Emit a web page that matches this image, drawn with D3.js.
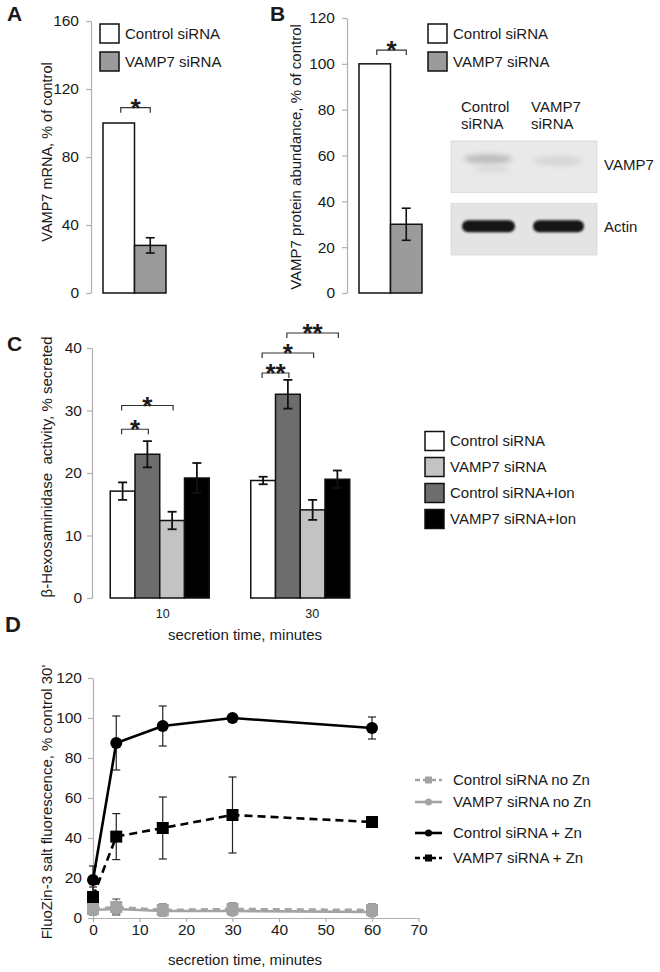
<!DOCTYPE html>
<html><head><meta charset="utf-8">
<script src="https://cdn.jsdelivr.net/npm/d3@7"></script>
<style>
body{margin:0;background:#fff}
svg text{font-family:Arial,"Liberation Sans",sans-serif;fill:#1a1a1a;white-space:pre}
</style>
</head><body>
<svg id="fig" width="660" height="972"></svg>
<script>
// ---------- DATA ----------
const conditionsAB = ["Control siRNA", "VAMP7 siRNA"];
const mrnaValues = [100, 28];
const mrnaErrors = [0, 4.5];
const proteinValues = [100, 30];
const proteinErrors = [0, 7];
const aTicks = [0, 40, 80, 120, 160];
const bTicks = [0, 20, 40, 60, 80, 100, 120];
const sigA = [{a: "Control siRNA", b: "VAMP7 siRNA", y: 109, label: "*"}];
const sigB = [{a: "Control siRNA", b: "VAMP7 siRNA", y: 106, label: "*"}];
const blotLanes = ["Control\nsiRNA", "VAMP7\nsiRNA"];
const blotProteins = ["VAMP7", "Actin"];

const secretionTimes = ["10", "30"];
const hexLegend = ["Control siRNA", "VAMP7 siRNA", "Control siRNA+Ion", "VAMP7 siRNA+Ion"];
const hexBarOrder = ["Control siRNA", "Control siRNA+Ion", "VAMP7 siRNA", "VAMP7 siRNA+Ion"];
const hexControl = [17.1, 18.8];
const hexControlErr = [1.4, 0.6];
const hexControlIon = [23.0, 32.6];
const hexControlIonErr = [2.1, 2.3];
const hexVamp7 = [12.4, 14.1];
const hexVamp7Err = [1.4, 1.6];
const hexVamp7Ion = [19.2, 19.0];
const hexVamp7IonErr = [2.4, 1.4];
const cTicks = [0, 10, 20, 30, 40];
const sigC = [
  {time: "10", a: "Control siRNA", b: "Control siRNA+Ion", y: 27.0, label: "*"},
  {time: "10", a: "Control siRNA", b: "VAMP7 siRNA", y: 30.8, label: "*"},
  {time: "30", a: "Control siRNA", b: "Control siRNA+Ion", y: 36.0, label: "**"},
  {time: "30", a: "Control siRNA", b: "VAMP7 siRNA", y: 39.2, label: "*"},
  {time: "30", a: "Control siRNA+Ion", b: "VAMP7 siRNA+Ion", y: 42.4, label: "**"}
];

const timePoints = [0, 5, 15, 30, 60];
const dSeriesNames = ["Control siRNA no Zn", "VAMP7 siRNA no Zn", "Control siRNA + Zn", "VAMP7 siRNA + Zn"];
const ctrlNoZn = [4.5, 5.5, 4, 4.5, 4];
const ctrlNoZnErr = [3, 4, 3, 3, 3];
const vampNoZn = [4, 4.5, 3.5, 3.5, 3];
const vampNoZnErr = [2, 2.5, 2, 2, 2];
const ctrlZn = [19, 87.5, 96, 100, 95];
const ctrlZnErr = [7, 13.5, 10, 0, 5.5];
const vampZn = [10.5, 40.7, 45, 51.5, 48];
const vampZnErr = [5, 11.5, 15.5, 19, 0];
const dXTicks = [0, 10, 20, 30, 40, 50, 60, 70];
const dYTicks = [0, 20, 40, 60, 80, 100, 120];

// ---------- HELPERS ----------
const svg = d3.select("#fig");
const AXIS = "#b0b0b0";
const FONT = 15;
const TICKFONT = 15.5;

function yAxis(scale, ticks, x, pad) {
  const g = svg.append("g").attr("transform", `translate(${x},0)`)
    .call(d3.axisLeft(scale).tickValues(ticks).tickSize(5).tickSizeOuter(0).tickPadding(pad));
  g.attr("font-family", null).attr("font-size", null);
  g.select(".domain").attr("stroke", AXIS).attr("stroke-width", 1.2);
  g.selectAll(".tick line").attr("stroke", AXIS).attr("stroke-width", 1.2);
  g.selectAll(".tick text").attr("font-size", TICKFONT).attr("fill", "#1a1a1a");
  return g;
}
function yTitle(text, x, y, size) {
  svg.append("text").attr("transform", `translate(${x},${y}) rotate(-90)`)
    .attr("text-anchor", "middle").attr("dy", "0.35em").attr("font-size", size).text(text);
}
function panelLabel(t, x, y, size) {
  svg.append("text").attr("x", x).attr("y", y).attr("font-size", size)
    .attr("font-weight", "bold").attr("fill", "#111").text(t);
}
function errBar(g, cx, yTop, yBot, cap, w, color) {
  g.append("line").attr("x1", cx).attr("x2", cx).attr("y1", yTop).attr("y2", yBot)
    .attr("stroke", color).attr("stroke-width", w);
  [yTop, yBot].forEach(yy => g.append("line").attr("x1", cx - cap / 2).attr("x2", cx + cap / 2)
    .attr("y1", yy).attr("y2", yy).attr("stroke", color).attr("stroke-width", w));
}
function bracket(x1, x2, y, label) {
  svg.append("path").attr("d", `M${x1},${y + 5}V${y}H${x2}V${y + 5}`)
    .attr("fill", "none").attr("stroke", "#333").attr("stroke-width", 1.2);
  svg.append("text").attr("x", (x1 + x2) / 2).attr("y", y + 9).attr("text-anchor", "middle")
    .attr("font-size", 26).attr("font-weight", "bold").attr("fill", "#111").text(label);
}
function boxLegend(items, colors, x, y0, step, size) {
  items.forEach((t, i) => {
    const y = y0 + i * step;
    svg.append("rect").attr("x", x).attr("y", y - size / 2).attr("width", size).attr("height", size)
      .attr("fill", colors[i]).attr("stroke", "#111").attr("stroke-width", 1.5);
    svg.append("text").attr("x", x + size + 6).attr("y", y).attr("dy", "0.35em")
      .attr("font-size", FONT).text(t);
  });
}

const abColors = ["#ffffff", "#9b9b9b"];

// ---------- PANEL A ----------
const yA = d3.scaleLinear().domain([0, 160]).range([293, 21]);
const xA = d3.scaleBand().domain(conditionsAB).range([103, 166]);
yAxis(yA, aTicks, 91, 7);
const gA = svg.append("g");
gA.selectAll("rect").data(conditionsAB).join("rect")
  .attr("x", d => xA(d)).attr("width", xA.bandwidth())
  .attr("y", (d, i) => yA(mrnaValues[i])).attr("height", (d, i) => yA(0) - yA(mrnaValues[i]))
  .attr("fill", (d, i) => abColors[i]).attr("stroke", "#111").attr("stroke-width", 1.5);
conditionsAB.forEach((c, i) => {
  if (mrnaErrors[i] > 0) errBar(gA, xA(c) + xA.bandwidth() / 2, yA(mrnaValues[i] + mrnaErrors[i]), yA(mrnaValues[i] - mrnaErrors[i]), 9, 1.6, "#111");
});
sigA.forEach(s => bracket(xA(s.a) + xA.bandwidth() / 2 + 2, xA(s.b) + xA.bandwidth() / 2, yA(s.y), s.label));
yTitle("VAMP7 mRNA, % of control", 47, 152, 14.5);
boxLegend(conditionsAB, abColors, 100, 33.5, 28, 19);
panelLabel("A", 7, 21, 21);

// ---------- PANEL B ----------
const yB = d3.scaleLinear().domain([0, 120]).range([293, 18]);
const xB = d3.scaleBand().domain(conditionsAB).range([359, 422]);
yAxis(yB, bTicks, 347, 7);
const gB = svg.append("g");
gB.selectAll("rect").data(conditionsAB).join("rect")
  .attr("x", d => xB(d)).attr("width", xB.bandwidth())
  .attr("y", (d, i) => yB(proteinValues[i])).attr("height", (d, i) => yB(0) - yB(proteinValues[i]))
  .attr("fill", (d, i) => abColors[i]).attr("stroke", "#111").attr("stroke-width", 1.5);
conditionsAB.forEach((c, i) => {
  if (proteinErrors[i] > 0) errBar(gB, xB(c) + xB.bandwidth() / 2, yB(proteinValues[i] + proteinErrors[i]), yB(proteinValues[i] - proteinErrors[i]), 9, 1.6, "#111");
});
sigB.forEach(s => bracket(xB(s.a) + xB.bandwidth() / 2 + 2, xB(s.b) + xB.bandwidth() / 2, yB(s.y), s.label));
yTitle("VAMP7 protein abundance, % of control", 296, 157, 15);
boxLegend(conditionsAB, abColors, 428, 33.5, 28, 19);
panelLabel("B", 270, 21, 21);

// ---------- WESTERN BLOT (illustration) ----------
const defs = svg.append("defs");
defs.append("filter").attr("id", "blur2").attr("x", "-20%").attr("y", "-50%").attr("width", "140%").attr("height", "200%")
  .append("feGaussianBlur").attr("stdDeviation", 2.5);
defs.append("filter").attr("id", "blur1").attr("x", "-20%").attr("y", "-50%").attr("width", "140%").attr("height", "200%")
  .append("feGaussianBlur").attr("stdDeviation", 1);
const laneX = d3.scalePoint().domain(blotLanes).range([488, 558]);
blotLanes.forEach(l => {
  const lines = l.split("\n");
  lines.forEach((t, j) => svg.append("text").attr("x", laneX(l) - 27).attr("y", 112 + j * 17)
    .attr("font-size", FONT).text(t));
});
const blotY = d3.scaleBand().domain(blotProteins).range([141, 255]).paddingInner(0.17);
blotProteins.forEach(p => {
  svg.append("rect").attr("x", 451).attr("y", blotY(p)).attr("width", 146).attr("height", blotY.bandwidth())
    .attr("fill", p === "VAMP7" ? "#e9e9e9" : "#e4e4e4").attr("stroke", "#d8d8d8").attr("stroke-width", 0.8);
  svg.append("text").attr("x", 604).attr("y", blotY(p) + blotY.bandwidth() / 2 - 2).attr("dy", "0.35em")
    .attr("font-size", FONT).text(p);
});
svg.append("ellipse").attr("cx", laneX(blotLanes[0])).attr("cy", blotY("VAMP7") + 18).attr("rx", 24).attr("ry", 5)
  .attr("fill", "#bdbdbd").attr("filter", "url(#blur2)");
svg.append("ellipse").attr("cx", laneX(blotLanes[0]) + 4).attr("cy", blotY("VAMP7") + 28).attr("rx", 18).attr("ry", 3)
  .attr("fill", "#d8d8d8").attr("filter", "url(#blur2)");
svg.append("ellipse").attr("cx", laneX(blotLanes[1])).attr("cy", blotY("VAMP7") + 20).attr("rx", 24).attr("ry", 5)
  .attr("fill", "#d6d6d6").attr("filter", "url(#blur2)");
svg.append("rect").attr("x", laneX(blotLanes[0]) - 26).attr("y", blotY("Actin") + 17).attr("width", 53).attr("height", 12)
  .attr("rx", 6).attr("fill", "#161616").attr("filter", "url(#blur1)");
svg.append("rect").attr("x", laneX(blotLanes[1]) - 25).attr("y", blotY("Actin") + 17).attr("width", 51).attr("height", 12)
  .attr("rx", 6).attr("fill", "#161616").attr("filter", "url(#blur1)");

// ---------- PANEL C ----------
const yC = d3.scaleLinear().domain([0, 40]).range([598, 348]);
const xC = d3.scalePoint().domain(secretionTimes).range([89.5, 370.5]).padding(0.5);
const xInner = d3.scaleBand().domain(hexBarOrder).range([-49.5, 49.5]);
const hexVals = {
  "Control siRNA": [hexControl, hexControlErr],
  "Control siRNA+Ion": [hexControlIon, hexControlIonErr],
  "VAMP7 siRNA": [hexVamp7, hexVamp7Err],
  "VAMP7 siRNA+Ion": [hexVamp7Ion, hexVamp7IonErr]
};
const hexColor = d3.scaleOrdinal().domain(hexLegend).range(["#ffffff", "#c3c3c3", "#6d6d6d", "#000000"]);
yAxis(yC, cTicks, 92, 5);
const gC = svg.append("g");
const barsC = [];
secretionTimes.forEach((t, ti) => hexBarOrder.forEach(s => barsC.push({t, s, v: hexVals[s][0][ti], e: hexVals[s][1][ti]})));
gC.selectAll("rect").data(barsC).join("rect")
  .attr("x", d => xC(d.t) + xInner(d.s)).attr("width", xInner.bandwidth())
  .attr("y", d => yC(d.v)).attr("height", d => yC(0) - yC(d.v))
  .attr("fill", d => hexColor(d.s)).attr("stroke", "#111").attr("stroke-width", 1.5);
barsC.forEach(d => errBar(gC, xC(d.t) + xInner(d.s) + xInner.bandwidth() / 2, yC(d.v + d.e), yC(d.v - d.e), 9, 1.8, "#111"));
sigC.forEach(s => {
  const cx = k => xC(s.time) + xInner(k) + xInner.bandwidth() / 2;
  bracket(cx(s.a) - 1, cx(s.b) + 1, yC(s.y), s.label);
});
secretionTimes.forEach(t => svg.append("text").attr("x", xC(t) + 3 + (t === "30" ? 9 : 0)).attr("y", 618)
  .attr("text-anchor", "middle").attr("font-size", 12.5).text(t));
svg.append("text").attr("x", 245).attr("y", 640).attr("text-anchor", "middle").attr("font-size", FONT)
  .text("secretion time, minutes");
yTitle("β-Hexosaminidase  activity, % secreted", 47, 467, 15);
boxLegend(hexLegend, hexLegend.map(d => hexColor(d)), 425, 441, 26, 19);
panelLabel("C", 7, 351, 21);

// ---------- PANEL D ----------
const xD = d3.scaleLinear().domain([0, 70]).range([93, 418.5]);
const yD = d3.scaleLinear().domain([0, 120]).range([918, 678]);
yAxis(yD, dYTicks, 93, 6);
const gx = svg.append("g").attr("transform", `translate(0,${yD(0)})`)
  .call(d3.axisBottom(xD).tickValues(dXTicks).tickSize(4).tickSizeOuter(0).tickPadding(2));
gx.attr("font-family", null).attr("font-size", null);
gx.select(".domain").attr("stroke", AXIS).attr("stroke-width", 1.2);
gx.selectAll(".tick line").attr("stroke", AXIS).attr("stroke-width", 1.2);
gx.selectAll(".tick text").attr("font-size", TICKFONT).attr("fill", "#1a1a1a");
svg.append("text").attr("x", 245).attr("y", 965).attr("text-anchor", "middle").attr("font-size", FONT)
  .text("secretion time, minutes");
yTitle("FluoZin-3 salt fluorescence, % control 30'", 47, 802, 15);
panelLabel("D", 5, 632, 22);

const GRAY = "#a3a3a3";
const dSeries = [
  {name: dSeriesNames[0], v: ctrlNoZn, e: ctrlNoZnErr, color: GRAY, dash: "7,5", marker: "square"},
  {name: dSeriesNames[1], v: vampNoZn, e: vampNoZnErr, color: GRAY, dash: null, marker: "circle"},
  {name: dSeriesNames[2], v: ctrlZn, e: ctrlZnErr, color: "#000", dash: null, marker: "circle"},
  {name: dSeriesNames[3], v: vampZn, e: vampZnErr, color: "#000", dash: "8,5", marker: "square"}
];
const line = d3.line().x(d => xD(d[0])).y(d => yD(d[1]));
const gD = svg.append("g");
function marker(g, type, x, y, size, color) {
  if (type === "circle") g.append("circle").attr("cx", x).attr("cy", y).attr("r", size / 2).attr("fill", color);
  else g.append("rect").attr("x", x - size / 2).attr("y", y - size / 2).attr("width", size).attr("height", size).attr("fill", color);
}
dSeries.forEach(s => {
  timePoints.forEach((t, i) => {
    if (s.e[i] > 0) errBar(gD, xD(t), yD(s.v[i] + s.e[i]), yD(s.v[i] - s.e[i]), 8, 1.2, s.color === "#000" ? "#222" : "#555");
  });
});
dSeries.forEach(s => {
  gD.append("path").datum(timePoints.map((t, i) => [t, s.v[i]])).attr("d", line)
    .attr("fill", "none").attr("stroke", s.color).attr("stroke-width", 2.6)
    .attr("stroke-dasharray", s.dash);
  timePoints.forEach((t, i) => marker(gD, s.marker, xD(t), yD(s.v[i]), 12, s.color));
});
const legDOffsets = [0, 22, 53, 78];
dSeries.forEach((s, i) => {
  const y = 780 + legDOffsets[i];
  svg.append("line").attr("x1", 415).attr("x2", 442).attr("y1", y).attr("y2", y)
    .attr("stroke", s.color).attr("stroke-width", 2.6).attr("stroke-dasharray", s.dash ? "5,3" : null);
  marker(svg, s.marker, 428.5, y, 7, s.color);
  svg.append("text").attr("x", 453).attr("y", y).attr("dy", "0.35em").attr("font-size", FONT).text(s.name);
});
</script>
</body></html>
